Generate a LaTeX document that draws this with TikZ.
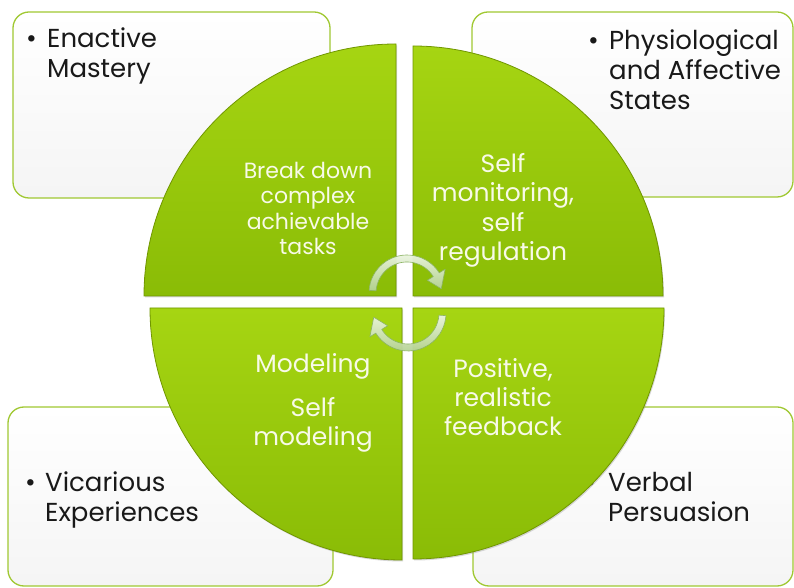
\documentclass[tikz,border=0pt]{standalone}
\usepackage{fontspec}
\setmainfont{Poppins}
\usetikzlibrary{shadows}
\definecolor{quadtop}{RGB}{166,213,18}
\definecolor{quadbot}{RGB}{138,188,6}
\definecolor{quadedge}{RGB}{112,150,0}
\definecolor{boxedge}{RGB}{160,200,50}
\definecolor{qtext}{RGB}{248,250,232}
\definecolor{arrowlight}{RGB}{236,245,226}
\definecolor{arrowdark}{RGB}{180,210,148}
\definecolor{arrowedge}{RGB}{140,180,100}

\begin{document}
\begin{tikzpicture}[x=1pt,y=1pt,
  infobox/.style={draw=boxedge, line width=1.3pt, rounded corners=16pt,
    top color=white, bottom color=black!4},
  quad/.style={draw=quadedge, line width=0.8pt, top color=quadtop, bottom color=quadbot,
    drop shadow={shadow xshift=1pt, shadow yshift=-1.5pt, opacity=0.3}},
  boxtext/.style={inner sep=0pt, anchor=north west, align=left, text=black!90,
    font=\fontsize{26}{30}\selectfont},
  quadtext/.style={inner sep=0pt, anchor=north, align=center, text=qtext},
  cyclearrow/.style={draw=arrowedge, line width=0.6pt, line join=round,
    top color=arrowlight, bottom color=arrowdark, fill opacity=0.95}
]
\fill[white] (0,0) rectangle (794,588);
\useasboundingbox (0,0) rectangle (794,588);

% outer rounded boxes
\path[infobox] (13,390) rectangle (330,576);
\path[infobox] (472,391) rectangle (793,576);
\path[infobox] (8,2) rectangle (333,181);
\path[infobox] (473,2) rectangle (793,181);

% box labels (the circle is drawn afterwards and covers the last bullet)
\node[boxtext] (enactive) at (26,560)
  {\makebox[21pt][l]{\textbullet}Enactive\\\hspace*{21pt}Mastery};
\node[boxtext] (physio) at (588,558)
  {\makebox[21pt][l]{\textbullet}Physiological\\\hspace*{21pt}and Affective\\\hspace*{21pt}States};
\node[boxtext] (vicarious) at (25,116)
  {\makebox[20pt][l]{\textbullet}Vicarious\\\hspace*{20pt}Experiences};
\node[boxtext] (verbal) at (585,116)
  {\makebox[23pt][l]{\textbullet}Verbal\\\hspace*{23pt}Persuasion};

% four quadrants of the circle
\path[quad] (396,292) -- (144,292) arc[start angle=180, end angle=90, radius=252] -- cycle;
\path[quad] (413,292) -- (413,542) arc[start angle=90, end angle=0, radius=250] -- cycle;
\path[quad] (402,280) -- (150,280) arc[start angle=180, end angle=270, radius=252] -- cycle;
\path[quad] (413,280) -- (664,280) arc[start angle=0, end angle=-90, radius=251] -- cycle;

% quadrant labels
\node[quadtext, font=\fontsize{22}{25.3}\selectfont] (breakdown) at (308,426)
  {Break down\\complex\\achievable\\tasks};
\node[quadtext, font=\fontsize{25}{29.5}\selectfont] (selfmon) at (503,435)
  {Self\\monitoring,\\self\\regulation};
\node[quadtext, font=\fontsize{25}{29}\selectfont] (modeling) at (313,235)
  {Modeling\\[15pt]Self\\modeling};
\node[quadtext, font=\fontsize{25}{29}\selectfont] (feedback) at (503,230)
  {Positive,\\realistic\\feedback};

% cycle arrows in the centre: curved band with a triangular head
\coordinate (topc) at (407,295);
\coordinate (botc) at (408,275);
\path[cyclearrow]
  ([shift={(topc)}]176:38) arc[start angle=176, end angle=32, radius=38]
  -- ([shift={(topc)}]32:45) -- ([shift={(topc)}]7:34.5)
  -- ([shift={(topc)}]32:24) -- ([shift={(topc)}]32:31)
  arc[start angle=32, end angle=176, radius=31] -- cycle;
\path[cyclearrow]
  ([shift={(botc)}]-4:38) arc[start angle=-4, end angle=-148, radius=38]
  -- ([shift={(botc)}]-148:45) -- ([shift={(botc)}]-173:34.5)
  -- ([shift={(botc)}]-148:24) -- ([shift={(botc)}]-148:31)
  arc[start angle=-148, end angle=-4, radius=31] -- cycle;
\end{tikzpicture}
\end{document}
